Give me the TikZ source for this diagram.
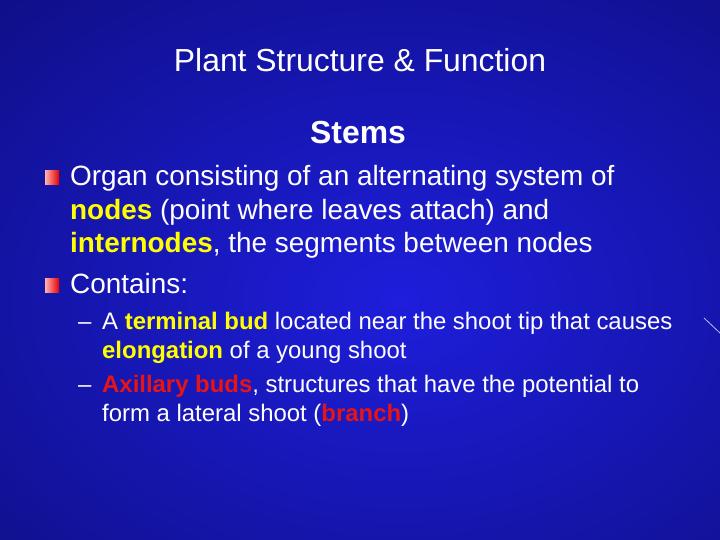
\documentclass[tikz,border=0pt]{standalone}
\usepackage{fontspec}
\setmainfont{Liberation Sans}
\begin{document}
\begin{tikzpicture}[x=1bp,y=-1bp,
  t/.style={anchor=base west,inner sep=0pt,text=white},
  big/.style={t,font=\fontsize{28}{32}\selectfont},
  sm/.style={t,font=\fontsize{24}{28}\selectfont},
]
\definecolor{ylw}{RGB}{255,255,0}
\definecolor{rd}{RGB}{230,20,20}
\definecolor{bgd}{RGB}{12,12,120}
\definecolor{bgl}{RGB}{30,30,220}
\useasboundingbox (0,0) rectangle (720,540);
\shade[inner color=bgl,outer color=bgd] (-300,-200) rectangle (1100,800);
\draw[white!70!bgl,line width=0.8pt] (704,318) -- (720,333);
\node[t,anchor=base,font=\fontsize{32}{36}\selectfont] (title) at (360,72) {Plant Structure \& Function};
\node[t,anchor=base,font=\fontsize{32}{36}\selectfont\bfseries] (stems) at (358,144) {Stems};
\shade[left color=white!70!red,right color=red!90!black] (45,171) rectangle (59,185);
\node[big] (l1) at (70,186) {Organ consisting of an alternating system of};
\node[big] (l2) at (70,220) {\textcolor{ylw}{\bfseries nodes} (point where leaves attach) and};
\node[big] (l3) at (70,253) {\textcolor{ylw}{\bfseries internodes}, the segments between nodes};
\shade[left color=white!70!red,right color=red!90!black] (45,278) rectangle (59,292);
\node[big] (l4) at (70,293) {Contains:};
\node[sm] (d1) at (78,329) {–};
\node[sm] (s1) at (102,329) {A \textcolor{ylw}{\bfseries terminal bud} located near the shoot tip that causes};
\node[sm] (s2) at (102,358) {\textcolor{ylw}{\bfseries elongation} of a young shoot};
\node[sm] (d2) at (78,392) {–};
\node[sm] (s3) at (102,392) {\textcolor{rd}{\bfseries Axillary buds}, structures that have the potential to};
\node[sm] (s4) at (102,421) {form a lateral shoot (\textcolor{rd}{\bfseries branch})};
\end{tikzpicture}
\end{document}
